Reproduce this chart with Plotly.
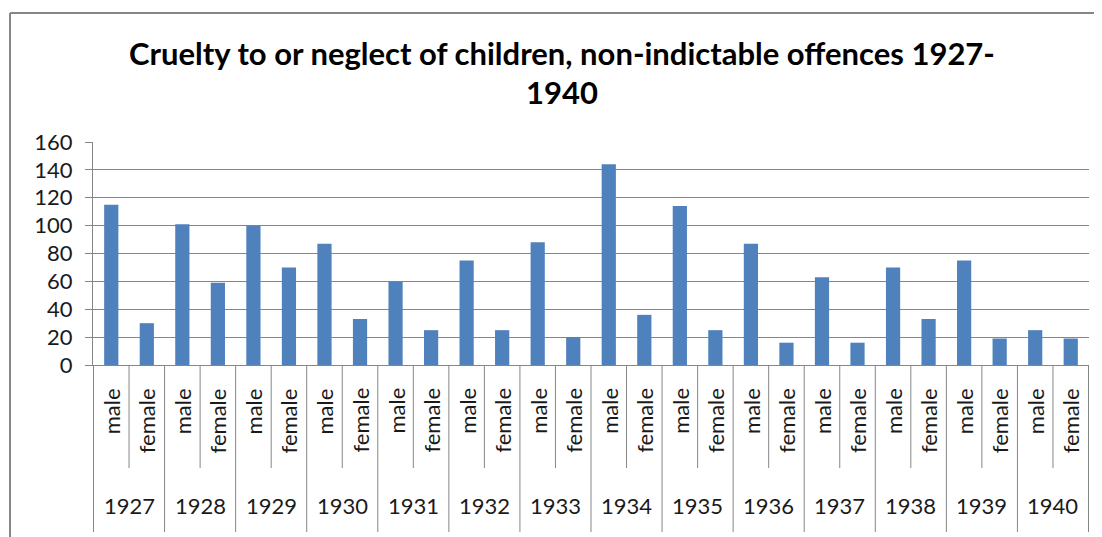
import plotly.graph_objects as go

years = ["1927", "1928", "1929", "1930", "1931", "1932", "1933",
         "1934", "1935", "1936", "1937", "1938", "1939", "1940"]
sexes = ["male", "female"]
male = [115, 101, 100, 87, 60, 75, 88, 144, 114, 87, 63, 70, 75, 25]
female = [30, 59, 70, 33, 25, 25, 20, 36, 25, 16, 16, 33, 19, 19]
y_ticks = [0, 20, 40, 60, 80, 100, 120, 140, 160]
title_line1 = "Cruelty to or neglect of children, non-indictable offences 1927-"
title_line2 = "1940"

cats, vals, sub = [], [], []
for i, yr in enumerate(years):
    for s, v in zip(sexes, [male[i], female[i]]):
        cats.append(f"{yr} {s}")
        vals.append(v)
        sub.append(s)

FONT = "Lato, Calibri, Carlito, sans-serif"
GRID = "#868686"
TXT = "#1a1a1a"

fig = go.Figure(go.Bar(x=cats, y=vals, marker=dict(color="#4F81BD", line=dict(width=0))))

OFF = 8  # page body margin
W, H = 1102 - OFF, 537 - OFF
# target pixel positions (in screenshot coordinates)
PL, PR, PT, PB = 93, 1089, 142, 365
L, R, T, B = PL - OFF, (W + OFF) - PR, PT - OFF, (H + OFF) - PB
ph = PB - PT
pw = PR - PL

def py(pix):
    return (PB - pix) / ph

def px(pix):
    return (pix - PL) / pw

shapes = []
n = len(cats)
for k in range(n + 1):
    long_ = (k % 2 == 0)
    shapes.append(dict(type="line", xref="x", yref="paper", x0=k - 0.5, x1=k - 0.5,
                       y0=0, y1=py(532 if long_ else 468),
                       line=dict(color=GRID, width=1)))
# chart border
shapes.append(dict(type="line", xref="paper", yref="paper", x0=px(10), x1=px(10),
                   y0=py(13), y1=py(545), line=dict(color=GRID, width=2)))
shapes.append(dict(type="line", xref="paper", yref="paper", x0=px(10), x1=px(1110),
                   y0=py(13), y1=py(13), line=dict(color=GRID, width=2)))

annotations = []
for k, (c, s) in enumerate(zip(cats, sub)):
    annotations.append(dict(x=c, xref="x", y=py(386), yref="paper", text=s,
                            textangle=-90, showarrow=False, xanchor="center", yanchor="top",
                            font=dict(family=FONT, size=22, color=TXT)))
for i, yr in enumerate(years):
    annotations.append(dict(x=2 * i + 0.5, xref="x", y=py(505), yref="paper", text=yr,
                            showarrow=False, xanchor="center", yanchor="middle",
                            font=dict(family=FONT, size=22, color=TXT)))
annotations.append(dict(x=px(562), xref="paper", y=py(53), yref="paper", text=f"<b>{title_line1}</b>",
                        showarrow=False, xanchor="center", yanchor="middle",
                        font=dict(family=FONT, size=31, color="#000")))
annotations.append(dict(x=px(562), xref="paper", y=py(92), yref="paper", text=f"<b>{title_line2}</b>",
                        showarrow=False, xanchor="center", yanchor="middle",
                        font=dict(family=FONT, size=31, color="#000")))

fig.update_layout(
    width=W, height=H,
    margin=dict(l=L, r=R, t=T, b=B, pad=0),
    paper_bgcolor="white", plot_bgcolor="white",
    bargap=0.6,
    showlegend=False,
    shapes=shapes,
    annotations=annotations,
    xaxis=dict(type="category", showticklabels=False, showgrid=False, ticks="",
               showline=True, linecolor=GRID, linewidth=1, fixedrange=True),
    yaxis=dict(range=[0, 160], tickvals=y_ticks, showgrid=True, gridcolor=GRID, gridwidth=1,
               showline=True, linecolor=GRID, linewidth=1, ticks="outside", ticklen=7,
               tickcolor=GRID, zeroline=False, ticklabelstandoff=8,
               tickfont=dict(family=FONT, size=22, color=TXT), fixedrange=True),
)

fig.write_html("out.html")
